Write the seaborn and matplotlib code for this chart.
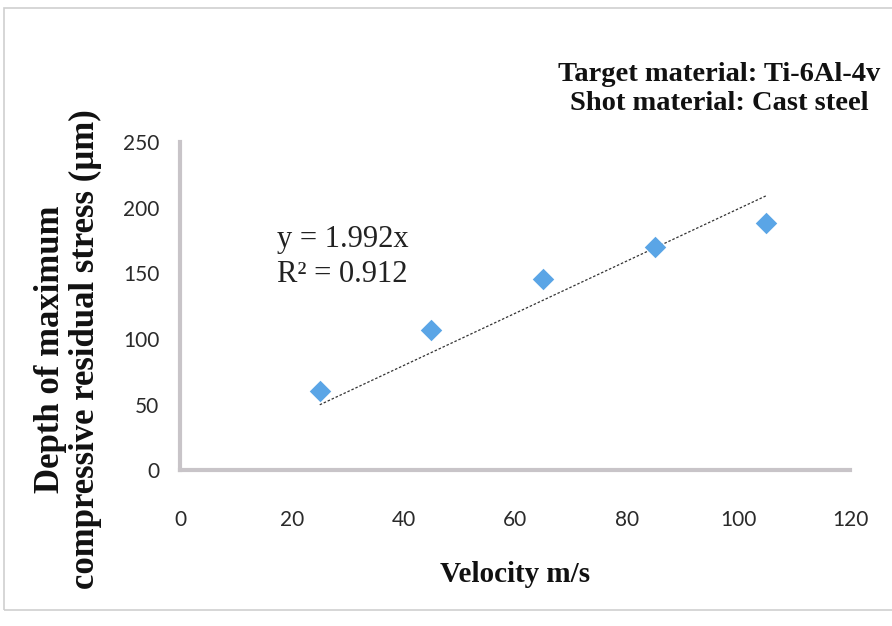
import numpy as np
import pandas as pd
import matplotlib
matplotlib.use("Agg")
import matplotlib.pyplot as plt
from matplotlib.patches import Rectangle
import seaborn as sns

# Shot peening data: impact velocity vs depth of max compressive residual stress
velocity = [25, 45, 65, 85, 105]
depth = [60, 107, 146, 170, 188]
slope = 1.992
r_squared = 0.912
x_ticks = [0, 20, 40, 60, 80, 100, 120]
y_ticks = [0, 50, 100, 150, 200, 250]

df = pd.DataFrame({"Velocity": velocity, "Depth": depth})

sns.set_theme(style="white")
plt.rcParams["font.family"] = ["Lato", "DejaVu Sans"]

fig = plt.figure(figsize=(8.92, 6.26), dpi=100)
ax = fig.add_axes([0.202, 0.249, 0.751, 0.524])

# Linear trend forced through the origin
x_fit = np.array([min(velocity), max(velocity)])
ax.plot(x_fit, slope * x_fit, linestyle=(0, (2, 1.5)), color="#333333",
        linewidth=0.9, zorder=2)

sns.scatterplot(data=df, x="Velocity", y="Depth", marker="D", s=120,
                color="#5aa5e6", edgecolor="#5aa5e6", linewidth=0, ax=ax,
                zorder=3)

ax.set_xlim(0, 120)
ax.set_ylim(0, 250)
ax.set_xticks(x_ticks)
ax.set_yticks(y_ticks)
ax.set_xticklabels([str(t) for t in x_ticks])
ax.set_yticklabels([str(t) for t in y_ticks])

for side in ("top", "right"):
    ax.spines[side].set_visible(False)
for side in ("left", "bottom"):
    ax.spines[side].set_color("#c8c4c8")
    ax.spines[side].set_linewidth(3.0)

ax.tick_params(axis="both", which="major", direction="out", length=5,
               width=2.8, color="#c8c4c8", labelsize=15, labelcolor="#2a2a2a")
ax.tick_params(axis="x", pad=24)
ax.tick_params(axis="y", pad=10)

serif = ["Liberation Serif", "DejaVu Serif"]
ax.set_xlabel("Velocity m/s", fontsize=21, fontweight="bold", family=serif,
              color="#111111", labelpad=22)
ax.set_ylabel("Depth of maximum\ncompressive residual stress (µm)",
              fontsize=25, fontweight="bold", family=serif, color="#111111",
              linespacing=1.1)
ax.yaxis.set_label_coords(-0.116, 0.37)

ax.text(0.145, 0.65, "y = 1.992x\nR² = 0.912", transform=ax.transAxes,
        fontsize=22, family=serif, color="#222222", va="center", ha="left",
        linespacing=1.25)

fig.text(0.806, 0.858, "Target material: Ti-6Al-4v\nShot material: Cast steel",
         fontsize=20.5, fontweight="bold", family=serif, color="#111111",
         ha="center", va="center", linespacing=1.2)

# Light outer frame around the chart area
fig.patches.append(Rectangle((0.005, 0.025), 1.2, 0.963,
                             transform=fig.transFigure, fill=False,
                             edgecolor="#cfcfcf", linewidth=1.2))

sns.despine(ax=ax)
fig.savefig("out.png", dpi=100, facecolor="white")
